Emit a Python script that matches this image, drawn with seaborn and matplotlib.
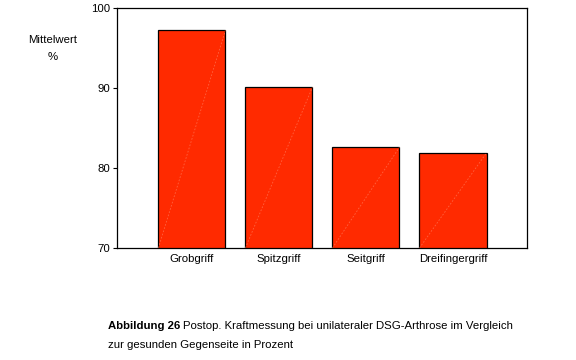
import matplotlib
matplotlib.use("Agg")
import matplotlib.pyplot as plt
import seaborn as sns
import pandas as pd

categories = ["Grobgriff", "Spitzgriff", "Seitgriff", "Dreifingergriff"]
values = [97.2, 90.1, 82.6, 81.9]
y_ticks = [70, 80, 90, 100]

sns.set_style("white")
plt.rcParams['font.family'] = ['Liberation Sans', 'DejaVu Sans']
plt.rcParams['text.color'] = 'black'
plt.rcParams['xtick.color'] = 'black'
plt.rcParams['ytick.color'] = 'black'

df = pd.DataFrame({"Griff": categories, "Wert": values})

fig = plt.figure(figsize=(5.76, 3.6), dpi=100)
ax = fig.add_axes([117/576, 112/360, 410/576, 240/360])

sns.barplot(data=df, x="Griff", y="Wert", color="#FF2A00", saturation=1,
            width=0.77, edgecolor="black", linewidth=0.9, ax=ax)

# faint diagonal rendering lines inside bars
for p in ax.patches:
    x0, y0 = p.get_x(), 70
    x1, y1 = p.get_x() + p.get_width(), p.get_y() + p.get_height()
    ax.plot([x0, x1], [y0, y1], color="#FF7A5A", lw=0.6, ls=(0, (2, 2)), alpha=0.7, zorder=3)

ax.set_ylim(70, 100)
ax.set_xlim(-0.86, 3.85)
ax.set_yticks(y_ticks)
ax.set_xlabel("")
ax.set_ylabel("")
ax.tick_params(axis="y", length=3, width=0.8, labelsize=8.2, pad=2, left=True,
               colors="black")
ax.tick_params(axis="x", length=0, labelsize=8.2, pad=4, colors="black")
for s in ax.spines.values():
    s.set_color("black")
    s.set_linewidth(0.9)

fs = 8.2
fig.text(53/576, 1 - 40/360, "Mittelwert", ha="center", va="center", fontsize=fs)
fig.text(53/576, 1 - 57/360, "%", ha="center", va="center", fontsize=fs)

t = fig.text(108/576, 1 - 326/360, "Abbildung 26", ha="left", va="center",
             fontsize=fs, fontweight="bold")
fig.canvas.draw()
bb = t.get_window_extent()
fig.text((bb.x1 + 3)/576, 1 - 326/360,
         "Postop. Kraftmessung bei unilateraler DSG-Arthrose im Vergleich",
         ha="left", va="center", fontsize=fs)
fig.text(108/576, 1 - 345/360, "zur gesunden Gegenseite in Prozent",
         ha="left", va="center", fontsize=fs)

fig.savefig("out.png", dpi=100)
